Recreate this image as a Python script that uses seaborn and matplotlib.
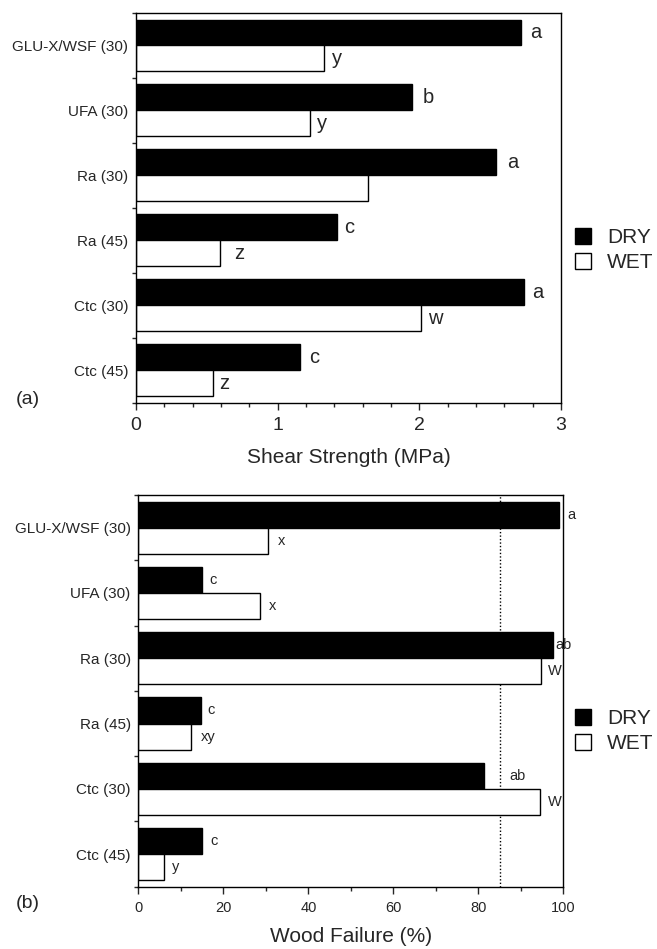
import numpy as np
import pandas as pd
import matplotlib
matplotlib.use("Agg")
import matplotlib.pyplot as plt
import seaborn as sns
from matplotlib.ticker import MultipleLocator, FixedLocator
from matplotlib.lines import Line2D

sns.set_style("ticks")
plt.rcParams['font.family'] = ['Liberation Sans', 'DejaVu Sans']

categories = ["GLU-X/WSF (30)", "UFA (30)", "Ra (30)", "Ra (45)", "Ctc (30)", "Ctc (45)"]
conditions = ["DRY", "WET"]

shear_dry = [2.72, 1.95, 2.54, 1.42, 2.74, 1.16]
shear_wet = [1.33, 1.23, 1.64, 0.59, 2.01, 0.54]
shear_dry_letters = ["a", "b", "a", "c", "a", "c"]
shear_wet_letters = ["y", "y", "", "z", "w", "z"]

wf_dry = [99.0, 15.1, 97.5, 14.7, 81.3, 14.9]
wf_wet = [30.6, 28.6, 94.7, 12.4, 94.6, 6.0]
wf_dry_letters = ["a", "c", "ab", "c", "ab", "c"]
wf_wet_letters = ["x", "x", "W", "xy", "W", "y"]
wf_reference = 85.0

PX = 0.72  # points per pixel at dpi 100


def make_df(dry, wet):
    return pd.DataFrame({
        "Group": categories * 2,
        "Condition": ["DRY"] * len(categories) + ["WET"] * len(categories),
        "Value": list(dry) + list(wet),
    })


fig = plt.figure(figsize=(6.57, 9.49), dpi=100)
ax1 = fig.add_axes([0.207, 0.5754, 0.647, 0.4109])
ax2 = fig.add_axes([0.2105, 0.0656, 0.647, 0.4128])

palette = {"DRY": "black", "WET": "white"}


def draw(ax, dry, wet, dry_lab, wet_lab, fs_lab, pads_dry, pads_wet):
    df = make_df(dry, wet)
    sns.barplot(data=df, y="Group", x="Value", hue="Condition", hue_order=conditions,
                palette=palette, orient="h", ax=ax, edgecolor="black", linewidth=1.0,
                saturation=1, errorbar=None, legend=False, width=0.8)
    for cont, labs, pads in zip(ax.containers, [dry_lab, wet_lab], [pads_dry, pads_wet]):
        for patch, lab, pad in zip(cont.patches, labs, pads):
            if not lab:
                continue
            ax.annotate(lab, xy=(patch.get_width(), patch.get_y() + patch.get_height() / 2),
                        xytext=(pad * PX, 0), textcoords="offset points",
                        ha="left", va="center", fontsize=fs_lab, annotation_clip=False)
    ax.set_ylabel("")
    for sp in ax.spines.values():
        sp.set_visible(True)
        sp.set_linewidth(1.0)
        sp.set_color("black")
    ax.yaxis.set_minor_locator(FixedLocator(np.arange(-0.5, len(categories), 1.0)))
    ax.tick_params(axis="y", which="major", length=0, pad=5.5, labelsize=11)
    ax.tick_params(axis="y", which="minor", length=3, width=1, direction="out")
    ax.tick_params(axis="x", which="major", length=5, width=1, direction="out")
    ax.tick_params(axis="x", which="minor", length=3, width=1, direction="out")
    ax.set_ylim(len(categories) - 0.5, -0.5)


draw(ax1, shear_dry, shear_wet, shear_dry_letters, shear_wet_letters, 14.5,
     [9, 10, 11, 7, 8, 9], [8, 7, 8, 15, 7, 7])
ax1.set_xlim(0, 3)
ax1.xaxis.set_major_locator(MultipleLocator(1))
ax1.xaxis.set_minor_locator(MultipleLocator(0.2))
ax1.tick_params(axis="x", which="major", labelsize=14, pad=5)
ax1.set_xlabel("Shear Strength (MPa)", fontsize=15, labelpad=10)

draw(ax2, wf_dry, wf_wet, wf_dry_letters, wf_wet_letters, 10.5,
     [8, 7, 3, 7, 25, 9], [9, 9, 7, 10, 8, 8])
ax2.axvline(wf_reference, color="black", linestyle=(0, (1, 1.5)), linewidth=1.0, zorder=0.5)
ax2.set_xlim(0, 100)
ax2.xaxis.set_major_locator(MultipleLocator(20))
ax2.xaxis.set_minor_locator(MultipleLocator(10))
ax2.tick_params(axis="x", which="major", labelsize=10.5, pad=5)
ax2.set_xlabel("Wood Failure (%)", fontsize=15, labelpad=9)

handles = [
    Line2D([], [], linestyle="none", marker="s", markersize=11.5, markerfacecolor="black",
           markeredgecolor="black", label="DRY"),
    Line2D([], [], linestyle="none", marker="s", markersize=11.5, markerfacecolor="white",
           markeredgecolor="black", markeredgewidth=1.0, label="WET"),
]
for yc in [0.7366, 0.2297]:
    fig.legend(handles=handles, loc="center left", bbox_to_anchor=(0.872, yc),
               frameon=False, fontsize=15, handlelength=1.0, handletextpad=0.65,
               labelspacing=0.3, borderpad=0, borderaxespad=0)

fig.text(16 / 657, 1 - 400 / 949, "(a)", fontsize=14, ha="left", va="center")
fig.text(16 / 657, 1 - 903 / 949, "(b)", fontsize=14, ha="left", va="center")

fig.savefig("out.png", dpi=100)
